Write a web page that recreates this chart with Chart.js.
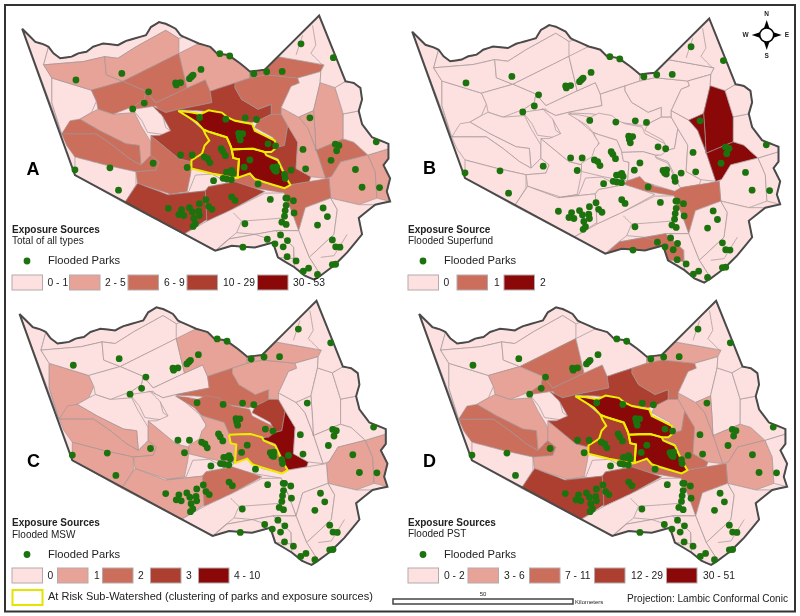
<!DOCTYPE html>
<html>
<head>
<meta charset="utf-8">
<title>Exposure sources by sub-watershed</title>
<script src="https://cdn.jsdelivr.net/npm/chart.js@4"></script>
<style>
html, body { margin: 0; padding: 0; background: #fff; }
canvas { display: block; }
</style>
</head>
<body>
<canvas id="mapChart" width="800" height="616"></canvas>
<script>
var county = [[55,75],[95,115],[118,122],[135,130],[150,150],[170,165],[205,160],[225,150],[250,145],[270,130],[300,120],[345,125],[370,112],[395,105],[430,95],[445,70],[470,55],[490,60],[520,75],[535,95],[545,100],[590,120],[625,130],[645,150],[680,155],[715,180],[745,205],[790,200],[955,35],[1035,235],[1060,240],[1080,255],[1085,290],[1075,325],[1085,365],[1100,385],[1115,405],[1140,415],[1165,425],[1165,470],[1150,490],[1170,530],[1160,570],[1170,600],[1125,610],[1075,650],[1085,700],[1040,755],[1000,795],[960,825],[940,838],[910,825],[880,800],[830,770],[815,725],[760,740],[690,735],[640,750],[215,520],[55,75]];

var farWest = [[55,75],[95,115],[118,122],[135,130],[120,185],[145,225],[145,300],[175,395]];
var westLight = [[145,225],[265,262],[280,295],[265,330],[230,350],[175,395],[145,300]];
var northStrip = [[135,130],[150,150],[170,165],[205,160],[225,150],[250,145],[270,130],[300,120],[345,125],[370,112],[395,105],[430,95],[445,70],[470,55],[490,60],[520,75],[535,95],[545,100],[530,105],[490,80],[400,130],[345,165],[305,160],[240,175],[120,185]];
var nwBand = [[120,185],[240,175],[305,160],[310,215],[360,235],[265,262],[145,225]];
var northMid = [[305,160],[345,165],[400,130],[490,80],[530,105],[530,150],[470,180],[420,205],[360,235],[310,215]];
var nwCore = [[360,235],[420,205],[470,180],[530,150],[555,255],[460,300],[430,265]];
var westMid = [[265,262],[360,235],[430,265],[425,290],[395,310],[330,335],[285,320],[280,295]];
var innerWest = [[425,290],[430,265],[460,300],[555,255],[610,230],[625,265],[630,300],[530,320],[490,330],[450,310],[395,330],[395,310]];
var bandTop = [[230,350],[265,330],[285,320],[330,335],[395,330],[415,370],[445,420],[445,460],[415,490],[410,430],[370,425],[290,385]];
var bandOne = [[200,355],[230,350],[290,385],[370,425],[410,430],[415,490],[380,470],[330,430],[280,395],[175,395]];
var bandTwo = [[175,395],[280,395],[330,430],[380,470],[415,490],[445,460],[470,480],[460,505],[400,510],[310,490],[215,465],[190,430]];
var swLight = [[215,520],[215,465],[310,490],[400,510],[400,550],[365,605]];
var midWest = [[445,420],[445,400],[530,470],[570,480],[565,520],[555,570],[505,578],[405,545],[400,510],[460,505],[470,480],[445,460]];
var pocket = [[390,320],[460,310],[480,335],[490,375],[508,388],[485,397],[435,390],[418,355]];
var centerWest = [[490,330],[530,320],[600,380],[620,410],[610,450],[570,480],[530,470],[445,400],[470,400],[505,385],[480,340],[450,310]];
var northCenter = [[530,150],[590,120],[625,130],[645,150],[680,155],[715,180],[745,205],[745,225],[700,240],[625,265],[610,230],[555,255]];
var topCenter = [[625,265],[700,240],[700,255],[720,290],[770,320],[810,305],[810,335],[770,355],[750,360],[680,350],[660,335],[600,325],[530,322],[530,320],[630,300]];
var riskOne = [[528,325],[560,328],[595,335],[620,323],[660,330],[678,345],[700,355],[752,365],[760,385],[820,415],[828,435],[810,450],[790,450],[755,440],[690,442],[688,435],[675,405],[620,388],[605,382],[585,360]];
var riskTwo = [[605,382],[620,388],[675,405],[688,435],[690,442],[695,468],[712,472],[708,528],[680,525],[630,515],[568,500],[568,475],[600,455],[608,430],[622,415],[610,395]];
var riskThree = [[690,442],[755,440],[790,450],[795,460],[830,475],[850,520],[868,550],[850,560],[810,548],[760,532],[745,515],[708,528],[712,472],[695,468]];
var innerNorth = [[700,240],[745,225],[790,215],[890,225],[895,240],[870,250],[840,315],[840,335],[810,335],[810,305],[770,320],[720,290],[700,255]];
var northEast = [[745,205],[790,200],[830,160],[970,185],[960,205],[890,225],[790,215],[745,225]];
var eastInner = [[810,335],[840,335],[860,370],[850,430],[830,435],[815,405],[760,375],[770,355]];
var eastCore = [[860,370],[890,420],[885,500],[930,525],[925,540],[865,550],[855,520],[830,470],[790,455],[830,435],[850,430]];
var eastBand = [[840,315],[893,344],[920,375],[945,440],[975,530],[930,525],[885,500],[890,420],[860,370],[840,335]];
var eastLight = [[840,315],[870,250],[895,240],[890,225],[960,205],[958,239],[938,324],[893,344]];
var eastStem = [[958,239],[1003,254],[1028,334],[1028,410],[945,445],[943,394],[938,324]];
var eastWing = [[893,344],[938,324],[943,394],[945,440],[920,375]];
var eastFoot = [[945,445],[1028,410],[1060,420],[1103,459],[1020,480],[993,524],[975,530],[945,440]];
var eastBig = [[1103,459],[1125,510],[1130,590],[1075,610],[990,590],[985,530],[993,524],[1020,480]];
var eastEdge = [[1103,459],[1165,440],[1165,470],[1150,490],[1170,530],[1160,570],[1170,600],[1130,590],[1125,510]];
var eastUpper = [[1028,334],[1075,325],[1085,365],[1100,385],[1115,405],[1140,415],[1165,425],[1165,440],[1103,459],[1060,420],[1028,410]];
var eastTop = [[1003,254],[1035,235],[1060,240],[1080,255],[1085,290],[1075,325],[1028,334]];
var neTip = [[790,200],[955,35],[1035,235],[1003,254],[958,239],[960,205],[970,185],[830,160]];
var southBand = [[693,540],[710,525],[745,515],[790,545],[850,558],[865,550],[925,540],[985,530],[990,590],[913,619],[893,689],[873,634],[848,574],[758,559]];
var sliver = [[498,580],[560,570],[580,520],[630,517],[665,535],[700,540],[620,555],[610,568]];
var swBig = [[365,605],[405,545],[498,580],[610,568],[615,655],[545,700]];
var swEast = [[610,568],[620,555],[700,540],[758,559],[790,570],[690,625],[615,660]];
var south = [[545,700],[615,660],[690,625],[790,575],[848,574],[873,634],[893,689],[823,689],[683,714],[643,749]];
var southMouth = [[643,749],[683,714],[823,689],[878,739],[878,774],[830,770],[815,725],[760,740],[690,735]];
var seMid = [[893,689],[913,619],[990,590],[1010,625],[1000,700],[925,770],[905,720]];
var seEast = [[990,590],[1075,610],[1125,610],[1075,650],[1085,700],[1040,755],[1000,795],[960,825],[925,770],[1000,700],[1010,625]];
var seTip = [[823,689],[893,689],[905,720],[925,770],[960,825],[940,838],[910,825],[880,800],[878,739]];

var regions = [farWest, westLight, northStrip, nwBand, northMid, nwCore, westMid, innerWest, bandTop, bandOne, bandTwo, swLight, midWest, pocket, centerWest, northCenter, topCenter, innerNorth, northEast, eastInner, eastCore, eastBand, eastLight, eastStem, eastWing, eastFoot, eastBig, eastEdge, eastUpper, eastTop, neTip, southBand, sliver, swBig, swEast, south, southMouth, seMid, seEast, seTip, riskOne, riskTwo, riskThree];

// thin sub-basin lines inside the light areas
var innerLines = [
    [[695,635],[720,660],[705,695],[680,715],[645,745]],
    [[720,660],[790,655],[850,650]],
    [[705,695],[760,700],[805,715]],
    [[935,65],[945,125],[930,150],[965,185]],
    [[905,95],[885,155]],
    [[960,770],[1000,765],[1040,700]]
];

// class of each region in the order above
var classesA = [0,0,0,1,1,2,2,2,1,2,2,0,2,0,3,1,3,2,2,2,3,1,0,1,1,2,1,1,0,0,0,2,0,3,3,0,0,0,0,0,4,3,4];
var classesB = [0,0,0,0,0,0,0,0,0,0,0,0,0,0,0,0,0,0,0,0,0,0,0,4,4,4,0,0,0,0,0,2,0,0,0,0,2,0,0,0,0,0,0];
var classesC = [0,1,0,0,0,0,0,0,0,1,1,1,1,0,0,1,2,1,1,3,4,0,0,0,0,0,1,1,0,0,0,0,0,1,2,0,0,0,0,0,2,1,2];
var classesD = [0,0,0,0,0,2,1,2,1,2,2,0,1,0,3,0,3,2,1,1,2,1,0,0,1,1,1,0,0,0,0,2,0,3,3,0,0,0,0,0,4,3,4];

var classColors = ['#fde0e0', '#e8a398', '#cc6e5c', '#ad3f30', '#8a0808'];

var parks = [[218,231],[357,211],[438,267],[425,301],[390,319],[520,240],[522,246],[535,239],[562,227],[568,221],[573,216],[597,199],[654,151],[684,158],[757,212],[796,206],[843,205],[900,121],[998,163],[593,345],[672,350],[731,346],[765,351],[927,346],[711,393],[723,394],[713,403],[716,413],[800,425],[823,431],[906,442],[658,440],[663,448],[671,461],[535,459],[570,459],[607,465],[617,470],[624,482],[555,497],[452,484],[321,498],[215,504],[347,566],[635,537],[745,474],[728,496],[690,506],[694,515],[674,511],[684,510],[664,530],[675,532],[689,534],[770,547],[815,497],[826,495],[820,505],[825,508],[850,518],[852,530],[870,505],[914,501],[1004,426],[1015,430],[1008,446],[991,475],[1128,419],[1065,503],[1085,557],[1138,558],[807,594],[854,590],[858,590],[877,598],[855,612],[852,628],[850,645],[879,635],[842,663],[855,670],[730,668],[967,620],[980,646],[950,672],[498,621],[538,625],[530,640],[545,643],[562,619],[571,632],[592,607],[612,595],[590,630],[592,643],[575,652],[580,668],[573,676],[620,615],[630,624],[690,586],[700,597],[838,702],[859,719],[798,715],[821,729],[846,738],[724,739],[858,768],[885,781],[907,812],[923,803],[950,822],[995,717],[1005,738],[1018,739],[995,792],[1005,791]];

var panels = [
    { dx: 0, dy: 0, classes: classesA, risk: [riskOne, riskTwo, riskThree] },
    { dx: 1182, dy: 9, classes: classesB, risk: [] },
    { dx: -8, dy: 867, classes: classesC, risk: [riskThree] },
    { dx: 1203, dy: 867, classes: classesD, risk: [riskOne, riskTwo, riskThree] }
];

var legends = [
    { letter: 'A', lx: 26.5, ly: 170, x: 12, tx: 48, py: 261, title: 'Exposure Sources', sub: 'Total of all types', ty: 230, sy: 275,
      swatches: [12, 69.5, 128, 187, 257.5], labels: ['0 - 1', '2 - 5', '6 - 9', '10 - 29', '30 - 53'], labelX: [47.5, 105, 164, 223, 293] },
    { letter: 'B', lx: 423, ly: 169, x: 408, tx: 444, py: 261, title: 'Exposure Source', sub: 'Flooded Superfund', ty: 230, sy: 275,
      swatches: [408, 457, 504], fills: [0, 2, 4], labels: ['0', '1', '2'], labelX: [443.5, 494, 540] },
    { letter: 'C', lx: 27, ly: 462, x: 12, tx: 48, py: 554.5, title: 'Exposure Sources', sub: 'Flooded MSW', ty: 523.5, sy: 568,
      swatches: [12, 57.5, 102.5, 150.5, 198.5], labels: ['0', '1', '2', '3', '4 - 10'], labelX: [47.5, 94, 138, 186, 234] },
    { letter: 'D', lx: 423, ly: 462, x: 408, tx: 444, py: 554.5, title: 'Exposure Sources', sub: 'Flooded PST', ty: 523, sy: 568,
      swatches: [408, 468, 529.5, 594.5, 666.5], labels: ['0 - 2', '3 - 6', '7 - 11', '12 - 29', '30 - 51'], labelX: [444, 504, 565, 631, 703] }
];

function shift(list, panel) {
    return list.map(function (p) {
        return { x: p[0] + panel.dx, y: p[1] + panel.dy };
    });
}

function closed(list) {
    return list.concat([list[0]]);
}

var layers = [];
panels.forEach(function (panel) {
    layers.push({ data: shift(county, panel), showLine: true, fill: 'shape', backgroundColor: classColors[0], borderColor: classColors[0], borderWidth: 0, pointRadius: 0 });
    regions.forEach(function (region, i) {
        layers.push({
            data: shift(closed(region), panel),
            showLine: true,
            fill: 'shape',
            backgroundColor: classColors[panel.classes[i]],
            borderColor: '#a09494',
            borderWidth: 0.7,
            pointRadius: 0
        });
    });
    innerLines.forEach(function (line) {
        layers.push({ data: shift(line, panel), showLine: true, fill: false, borderColor: '#a09494', borderWidth: 0.7, pointRadius: 0 });
    });
    layers.push({ data: shift(county, panel), showLine: true, fill: false, borderColor: '#4a4a4a', borderWidth: 2, pointRadius: 0 });
    panel.risk.forEach(function (region) {
        layers.push({ data: shift(closed(region), panel), showLine: true, fill: false, borderColor: '#eded00', borderWidth: 2, pointRadius: 0 });
    });
    layers.push({ data: shift(parks, panel), showLine: false, backgroundColor: '#1c730e', borderWidth: 0, pointRadius: 3.4 });
});
// first dataset in the list is painted last
layers.reverse();

var keyPlugin = {
    id: 'mapKey',
    afterDatasetsDraw: function (chart) {
        var ctx = chart.ctx;
        ctx.save();
        ctx.strokeStyle = '#333333';
        ctx.lineWidth = 2;
        ctx.strokeRect(5, 5, 790, 606.5);
        ctx.textBaseline = 'middle';
        ctx.textAlign = 'left';

        legends.forEach(function (leg) {
            ctx.fillStyle = '#000';
            ctx.font = 'bold 18px "Liberation Sans"';
            ctx.fillText(leg.letter, leg.lx, leg.ly);
            ctx.fillStyle = '#222';
            ctx.font = 'bold 10px "Liberation Sans"';
            ctx.fillText(leg.title, leg.x, leg.ty);
            ctx.font = '10px "Liberation Sans"';
            ctx.fillText(leg.sub, leg.x, leg.ty + 11.5);
            ctx.font = '11.2px "Liberation Sans"';
            ctx.fillText('Flooded Parks', leg.tx, leg.py);
            ctx.beginPath();
            ctx.arc(leg.x + 15, leg.py, 3.4, 0, Math.PI * 2);
            ctx.fillStyle = '#1c730e';
            ctx.fill();
            ctx.font = '10.3px "Liberation Sans"';
            leg.swatches.forEach(function (sx, i) {
                var c = leg.fills ? leg.fills[i] : i;
                ctx.fillStyle = classColors[c];
                ctx.fillRect(sx, leg.sy, 30.5, 15);
                ctx.strokeStyle = '#b5aaaa';
                ctx.lineWidth = 1;
                ctx.strokeRect(sx, leg.sy, 30.5, 15);
                ctx.fillStyle = '#222';
                ctx.fillText(leg.labels[i], leg.labelX[i], leg.sy + 8);
            });
        });

        // at risk key
        ctx.strokeStyle = '#e4e400';
        ctx.lineWidth = 2;
        ctx.strokeRect(12.5, 590, 30, 15);
        ctx.fillStyle = '#222';
        ctx.font = '11px "Liberation Sans"';
        ctx.fillText('At Risk Sub-Watershed (clustering of parks and exposure sources)', 48, 597);
        ctx.font = '10.1px "Liberation Sans"';
        ctx.fillText('Projection: Lambic Conformal Conic', 627, 599.5);

        // scale bar
        ctx.strokeStyle = '#444';
        ctx.lineWidth = 1.5;
        ctx.strokeRect(393, 599, 180, 5);
        ctx.font = '6px "Liberation Sans"';
        ctx.fillText('Kilometers', 575, 602);
        ctx.textAlign = 'center';
        ctx.fillText('50', 483, 594);

        // north arrow
        var cx = 766.7, cy = 35;
        ctx.fillStyle = '#000';
        [[0, -1], [0, 1], [-1, 0], [1, 0]].forEach(function (d) {
            ctx.beginPath();
            ctx.moveTo(cx + d[0] * 15, cy + d[1] * 15);
            ctx.lineTo(cx + d[0] * 6 - d[1] * 3, cy + d[1] * 6 + d[0] * 3);
            ctx.lineTo(cx + d[0] * 6 + d[1] * 3, cy + d[1] * 6 - d[0] * 3);
            ctx.closePath();
            ctx.fill();
        });
        ctx.beginPath();
        ctx.arc(cx, cy, 7, 0, Math.PI * 2);
        ctx.fillStyle = '#fff';
        ctx.fill();
        ctx.strokeStyle = '#000';
        ctx.lineWidth = 1.6;
        ctx.stroke();
        ctx.fillStyle = '#222';
        ctx.font = 'bold 6.5px "Liberation Sans"';
        ctx.fillText('N', cx, 14);
        ctx.fillText('S', cx, 56.5);
        ctx.fillText('W', 745.5, 35.5);
        ctx.fillText('E', 787, 35.5);
        ctx.restore();
    }
};

new Chart(document.getElementById('mapChart').getContext('2d'), {
    type: 'scatter',
    data: { datasets: layers },
    options: {
        responsive: false,
        animation: false,
        events: [],
        layout: { padding: 0 },
        // a tiny tension keeps chart.js off its x-merging fast path, these outlines double back on x
        elements: { line: { tension: 0.001 } },
        plugins: { legend: { display: false }, tooltip: { enabled: false } },
        scales: {
            x: { type: 'linear', display: false, min: 0, max: 2400 },
            y: { type: 'linear', display: false, min: 0, max: 1848, reverse: true }
        }
    },
    plugins: [keyPlugin]
});
</script>
</body>
</html>
